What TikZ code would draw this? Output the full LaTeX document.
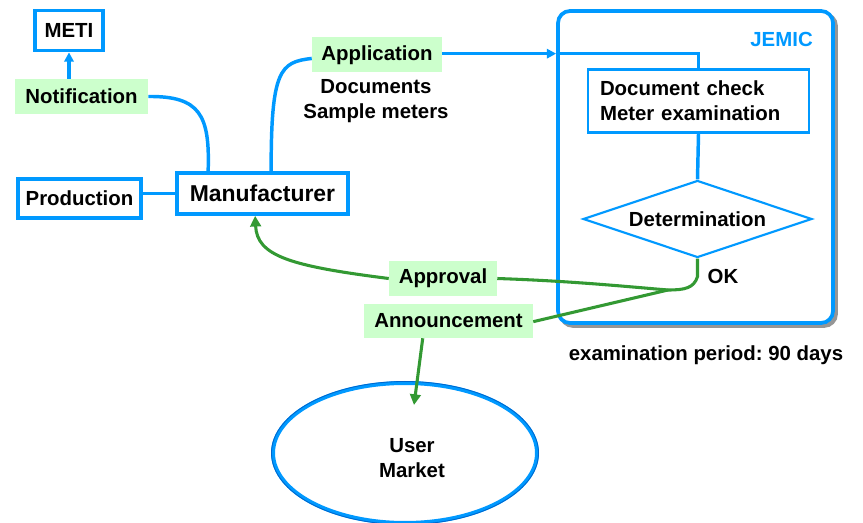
\documentclass[tikz,border=0pt]{standalone}
\usepackage{fontspec}
\setmainfont{Liberation Sans}
\usetikzlibrary{shapes.geometric,arrows.meta}
\definecolor{bl}{RGB}{0,153,255}
\definecolor{dbl}{RGB}{0,102,204}
\definecolor{gr}{RGB}{51,153,51}
\definecolor{lg}{RGB}{204,255,204}
\definecolor{shd}{RGB}{150,150,150}
\frenchspacing
\begin{document}
\begin{tikzpicture}[x=0.75pt,y=-0.75pt,
 txt/.style={font=\fontsize{15.3}{18.75}\selectfont\bfseries},
 bbox/.style={txt,draw=bl,line width=2.8pt,fill=white,inner sep=0pt},
 thinbox/.style={txt,draw=bl,line width=1.6pt,fill=white},
 lbl/.style={txt,fill=lg,inner sep=0pt},
 bline/.style={draw=bl,line width=2.6pt},
 gline/.style={draw=gr,line width=2.3pt},
 btip/.style={-{Triangle[length=7pt,width=7pt]}},
]
\useasboundingbox (0,0) rectangle (863,523);

% JEMIC container with shadow
\node[draw=shd,fill=shd,line width=2.8pt,rounded corners=9pt,minimum width=206.25pt,minimum height=234pt] (jshadow) at (698.5,170) {};
\node[draw=bl,fill=white,line width=2.8pt,rounded corners=9pt,minimum width=206.25pt,minimum height=234pt] (jemic) at (695.5,167) {};
\node[txt,text=bl,anchor=east,inner sep=0pt] (jlabel) at (813,39) {JEMIC};

% nodes
\node[bbox,minimum width=51pt,minimum height=30pt] (meti) at (69,30.5) {METI};
\node[lbl,minimum width=99.75pt,minimum height=26.25pt] (notif) at (81.5,96.5) {Notification};
\node[bbox,minimum width=92.25pt,minimum height=29.25pt] (prod) at (79.5,198.5) {Production};
\node[bbox,font=\fontsize{17.2}{20}\selectfont\bfseries,minimum width=128.25pt,minimum height=30.75pt] (manuf) at (262.5,193.5) {Manufacturer};
\node[lbl,minimum width=97.5pt,minimum height=26.25pt] (app) at (377,55) {Application};
\node[txt,align=center,inner sep=0pt] (docs) at (376,101) {Documents\\Sample meters};

\node[thinbox,align=left,text width=147.75pt,inner xsep=9pt,minimum height=47.25pt,inner ysep=0pt] (doc) at (698.5,101) {Document check\\Meter examination};
\node[txt,diamond,draw=bl,line width=1.6pt,fill=white,shape aspect=3,inner sep=0pt,minimum width=171.75pt,minimum height=57.75pt] (det) at (697.5,219) {Determination};
\node[txt,inner sep=0pt] (ok) at (723,276) {OK};

\node[lbl,minimum width=81pt,minimum height=26.25pt] (appr) at (443,278.5) {Approval};
\node[lbl,minimum width=126.75pt,minimum height=25.5pt] (ann) at (448.5,321) {Announcement};

\node[txt,ellipse,draw=bl,line width=3pt,fill=white,minimum width=198pt,minimum height=105pt,inner sep=0pt,align=center] (mkt) at (405,453) {};
\draw[dbl,line width=0.6pt] (405,453) ellipse (133.5 and 71.5);
\node[txt,align=center,inner sep=0pt] (mtext) at (412,458) {User\\Market};

\node[txt,inner sep=0pt] (period) at (706,355) {examination period: 90 days};

% blue connectors
\draw[bline,btip] (notif.north -| meti.south) -- (meti.south);
\draw[bline] (notif.east) .. controls (200,96) and (210,115) .. ([xshift=24.75pt]manuf.north west);
\draw[bline] (prod.east |- manuf.west) -- (manuf.west);
\draw[bline] ([xshift=72pt]manuf.north west) .. controls (271,70) and (280,62) .. ([yshift=-2.6pt]app.west);
\draw[bline,btip] ([yshift=1pt]app.east) -- ([yshift=1pt]jemic.west |- app.east);
\draw[bline] ([yshift=1pt]jemic.west |- app.east) -- ([yshift=1pt]doc.north |- app.east) -- (doc.north);
\draw[bline] (doc.south) -- (det.north);

% green connectors
\coordinate (j) at (668,290);
\draw[gline] (det.south) -- ++(0,18) .. controls (694,288) and (685,290) .. (j);
\draw[gline] (appr.east) .. controls (570,281) and (620,286) .. (j);
\draw[gline] ([yshift=-0.5pt]ann.east) -- (j);
\draw[gline,-{Triangle[length=8pt,width=8pt]}] (appr.west) .. controls (290,266) and (257,256) .. ([xshift=60pt]manuf.south west);
\draw[gline,-{Triangle[length=8pt,width=8pt]}] ([xshift=44.25pt]ann.south west) -- ([xshift=6.75pt,yshift=-18pt]mkt.north);
\end{tikzpicture}
\end{document}
